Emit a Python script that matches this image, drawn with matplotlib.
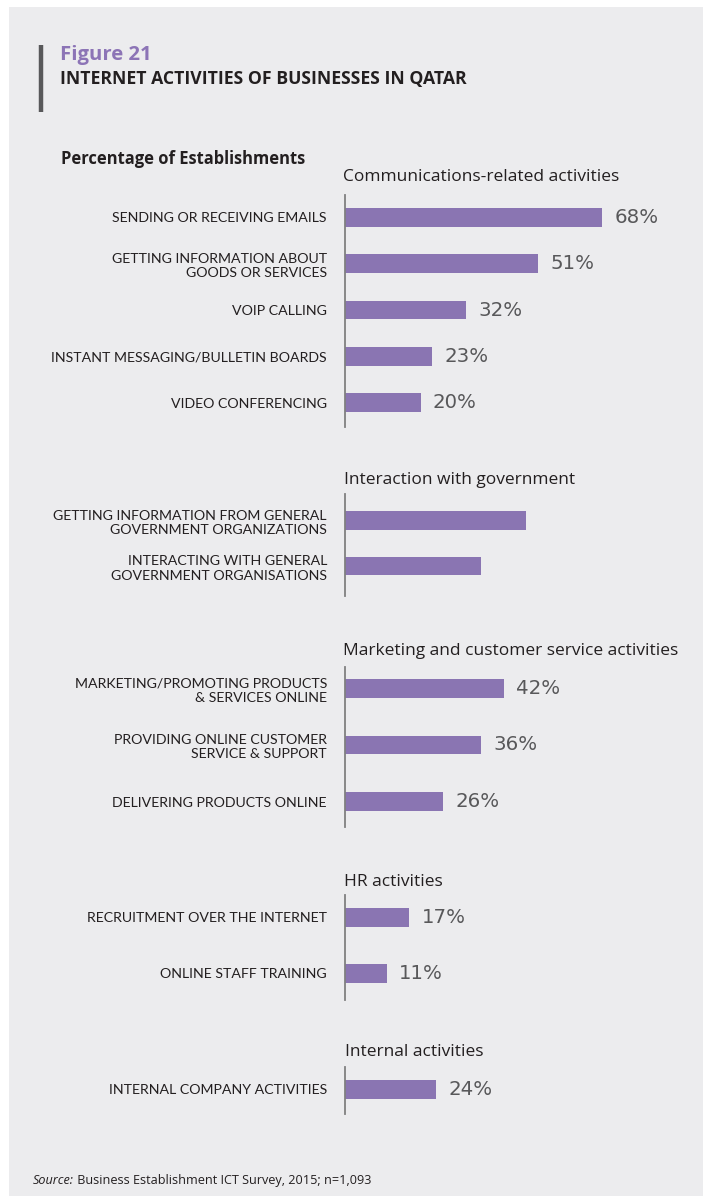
import matplotlib
matplotlib.use("Agg")
import matplotlib.pyplot as plt
from matplotlib.patches import Rectangle
from matplotlib.lines import Line2D

# ---------------- data ----------------
group_titles = [
    "Communications-related activities",
    "Interaction with government",
    "Marketing and customer service activities",
    "HR activities",
    "Internal activities",
]
comm_labels = [
    "SENDING OR RECEIVING EMAILS",
    "GETTING INFORMATION ABOUT\nGOODS OR SERVICES",
    "VOIP CALLING",
    "INSTANT MESSAGING/BULLETIN BOARDS",
    "VIDEO CONFERENCING",
]
comm_values = [68, 51, 32, 23, 20]
comm_show = [True, True, True, True, True]

gov_labels = [
    "GETTING INFORMATION FROM GENERAL\nGOVERNMENT ORGANIZATIONS",
    "INTERACTING WITH GENERAL\nGOVERNMENT ORGANISATIONS",
]
gov_values = [48, 36]
gov_show = [False, False]

mkt_labels = [
    "MARKETING/PROMOTING PRODUCTS\n& SERVICES ONLINE",
    "PROVIDING ONLINE CUSTOMER\nSERVICE & SUPPORT",
    "DELIVERING PRODUCTS ONLINE",
]
mkt_values = [42, 36, 26]
mkt_show = [True, True, True]

hr_labels = ["RECRUITMENT OVER THE INTERNET", "ONLINE STAFF TRAINING"]
hr_values = [17, 11]
hr_show = [True, True]

int_labels = ["INTERNAL COMPANY ACTIVITIES"]
int_values = [24]
int_show = [True]

fig_title = "Figure 21"
fig_subtitle = "INTERNET ACTIVITIES OF BUSINESSES IN QATAR"
measure_label = "Percentage of Establishments"
source_italic = "Source:"
source_text = " Business Establishment ICT Survey, 2015; n=1,093"

# ---------------- style / layout ----------------
W, H = 707, 1196
DPI = 100
BG = "#ececee"
BAR = "#8a75b2"
TXT = "#231f20"
VAL = "#58585a"
AXC = "#808080"
FONT = ["Lato", "DejaVu Sans"]
HFONT = ["Open Sans", "DejaVu Sans"]
VFONT = ["DejaVu Sans"]

AX_LEFT = 345          # px
PX_PER_PCT = 3.775     # px per percentage point
AX_RIGHT = 700

# per group: (axis top px, axis bottom px, first bar centre px, spacing px)
layout = [
    (195, 427, 217.5, 46.3),
    (494, 596, 520.5, 45.5),
    (667, 827, 688.3, 56.7),
    (895, 1000, 917.5, 56.0),
    (1067, 1114, 1089.5, 56.0),
]
title_pos = [(343, 180.7), (344, 484.5), (343, 655), (344, 886), (345, 1056)]
BAR_PX = 18.6

fig = plt.figure(figsize=(W / DPI, H / DPI), dpi=DPI)
fig.patch.set_facecolor("white")

def fx(px):
    return px / W

def fy(py):
    return 1 - py / H

# gray panel
fig.add_artist(Rectangle((fx(9), 0), fx(703) - fx(9), fy(7), transform=fig.transFigure,
                         facecolor=BG, edgecolor="none", zorder=0))
# title accent bar
fig.add_artist(Line2D([fx(40.5), fx(40.5)], [fy(45), fy(112)], transform=fig.transFigure,
                      color="#58585a", linewidth=3.2, solid_capstyle="butt"))

fig.text(fx(60), fy(60), fig_title, fontsize=14.6, fontweight="bold", color="#8c74b6",
         family=HFONT, va="baseline", ha="left")
fig.text(fx(60), fy(84), fig_subtitle, fontsize=12.7, fontweight="bold", color=TXT,
         family=HFONT, va="baseline", ha="left")
fig.text(fx(61), fy(164), measure_label, fontsize=11.9, fontweight="bold", color=TXT,
         family=HFONT, va="baseline", ha="left")

groups = [
    (comm_labels, comm_values, comm_show),
    (gov_labels, gov_values, gov_show),
    (mkt_labels, mkt_values, mkt_show),
    (hr_labels, hr_values, hr_show),
    (int_labels, int_values, int_show),
]

for (labels, values, show), (top, bot, first, sp), gtitle, (tx, ty) in zip(
        groups, layout, group_titles, title_pos):
    ax = fig.add_axes([fx(AX_LEFT), fy(bot), fx(AX_RIGHT) - fx(AX_LEFT), (bot - top) / H])
    ax.set_facecolor("none")
    n = len(values)
    pos = list(range(n))
    ax.barh(pos, values, height=BAR_PX / sp, color=BAR, edgecolor="none", zorder=2)
    ax.set_xlim(0, (AX_RIGHT - AX_LEFT) / PX_PER_PCT)
    ymin = -(first - top) / sp
    ymax = (bot - first) / sp
    ax.set_ylim(ymax, ymin)
    ax.set_yticks(pos)
    ax.set_yticklabels(labels, fontsize=10.2, color=TXT, family=FONT, linespacing=1.25,
                       ha="right")
    ax.tick_params(axis="y", length=0, pad=13)
    ax.set_xticks([])
    for s in ["top", "right", "bottom"]:
        ax.spines[s].set_visible(False)
    ax.spines["left"].set_color(AXC)
    ax.spines["left"].set_linewidth(1.3)
    for p, v, sh in zip(pos, values, show):
        if sh:
            ax.annotate(f"{v}%", (v, p), xytext=(9, 0), textcoords="offset points",
                        va="center", ha="left", fontsize=14.2, color=VAL, family=VFONT)
    fig.text(fx(tx), fy(ty), gtitle, fontsize=12.5, color=TXT, family=HFONT,
             va="baseline", ha="left")

t1 = fig.text(fx(33), fy(1184), source_italic, fontsize=9.1, style="italic", color=TXT,
              family=HFONT, va="baseline", ha="left")
fig.canvas.draw()
bb = t1.get_window_extent()
fig.text(bb.x1 / W, fy(1184), source_text, fontsize=9.1, color=TXT, family=HFONT,
         va="baseline", ha="left")

fig.savefig("out.png", dpi=DPI, facecolor=fig.get_facecolor())
